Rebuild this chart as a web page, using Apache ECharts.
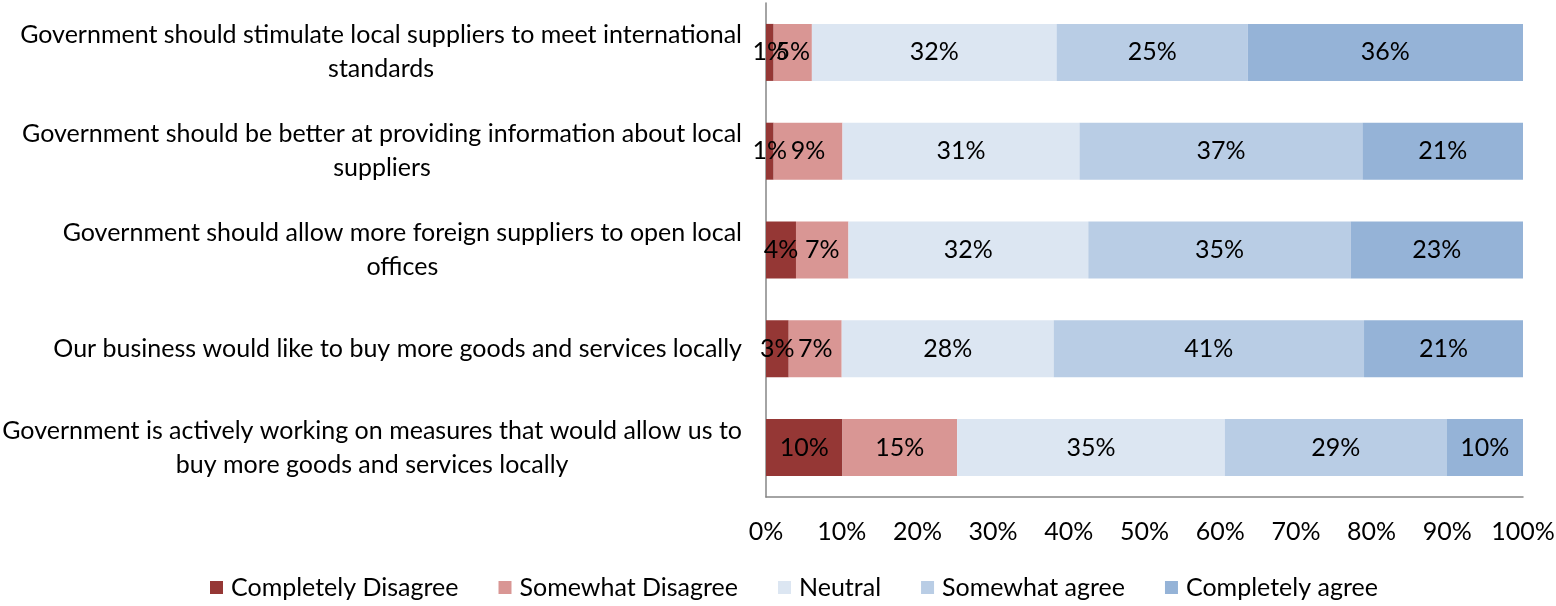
<!DOCTYPE html>
<html>
<head>
<meta charset="utf-8">
<title>Attitudes towards local sourcing</title>
<script src="https://cdn.jsdelivr.net/npm/echarts@6/dist/echarts.min.js"></script>
<style>
  html, body { margin: 0; padding: 0; background: #ffffff; }
  #chart { width: 1556px; height: 606px; }
</style>
</head>
<body>
<div id="chart"></div>
<script>
// Survey statements, top to bottom
const categories = [
  'Government should stimulate local suppliers to meet international\nstandards',
  'Government should be better at providing information about local\nsuppliers',
  'Government should allow more foreign suppliers to open local\noffices',
  'Our business would like to buy more goods and services locally',
  'Government is actively working on measures that would allow us to\nbuy more goods and services locally'
];

// Share of respondents (%) per answer, same order as categories
const completelyDisagree = [1, 1, 4, 3, 10];
const somewhatDisagree   = [5, 9, 7, 7, 15];
const neutral            = [32, 31, 32, 28, 35];
const somewhatAgree      = [25, 37, 35, 41, 29];
const completelyAgree    = [36, 21, 23, 21, 10];

const seriesNames = ['Completely Disagree', 'Somewhat Disagree', 'Neutral', 'Somewhat agree', 'Completely agree'];
const seriesColors = ['#953735', '#D99694', '#DCE6F2', '#B9CDE5', '#95B3D7'];

const axisTicks = [0, 10, 20, 30, 40, 50, 60, 70, 80, 90, 100];

const FONT = 'Lato';
const FS = 25;

const answers = [completelyDisagree, somewhatDisagree, neutral, somewhatAgree, completelyAgree];

// 100% stacked: each row is scaled to its own total
const rowTotals = categories.map((_, i) => answers.reduce((s, a) => s + a[i], 0));

const series = answers.map((arr, k) => ({
  name: seriesNames[k],
  type: 'bar',
  stack: 'total',
  barWidth: 57,
  itemStyle: { color: seriesColors[k] },
  label: {
    show: true,
    position: 'inside',
    color: '#000000',
    fontFamily: FONT,
    fontSize: FS,
    formatter: p => p.data.raw + '%'
  },
  emphasis: { disabled: true },
  data: arr.map((v, i) => ({ value: v / rowTotals[i] * 100, raw: v }))
}));

const chart = echarts.init(document.getElementById('chart'), null, { renderer: 'canvas' });

chart.setOption({
  animation: false,
  backgroundColor: '#ffffff',
  textStyle: { fontFamily: FONT },
  grid: {
    left: 766,
    right: 33,
    top: 3,
    bottom: 109,
    containLabel: false,
    outerBoundsMode: 'none'
  },
  legend: {
    data: seriesNames,
    left: 205,
    top: 570,
    icon: 'rect',
    itemWidth: 13,
    itemHeight: 13,
    itemGap: 40,
    selectedMode: false,
    textStyle: {
      fontFamily: FONT,
      fontSize: FS,
      color: '#000000',
      padding: [0, 0, 0, 3]
    }
  },
  xAxis: {
    type: 'value',
    min: axisTicks[0],
    max: axisTicks[axisTicks.length - 1],
    interval: axisTicks[1] - axisTicks[0],
    axisLine: { show: true, lineStyle: { color: '#868686', width: 1.5 } },
    axisTick: { show: false },
    splitLine: { show: false },
    axisLabel: {
      margin: 22,
      color: '#000000',
      fontFamily: FONT,
      fontSize: FS,
      formatter: v => v + '%'
    }
  },
  yAxis: {
    type: 'category',
    inverse: true,
    data: categories,
    axisLine: { show: true, lineStyle: { color: '#868686', width: 1.5 } },
    axisTick: { show: false },
    axisLabel: {
      margin: 24,
      align: 'right',
      verticalAlign: 'middle',
      color: '#000000',
      fontFamily: FONT,
      fontSize: FS,
      formatter: v => v.split('\n').map(line => '{c|' + line + '}').join('\n'),
      rich: {
        c: {
          align: 'center',
          fontFamily: FONT,
          fontSize: FS,
          lineHeight: 34,
          color: '#000000'
        }
      }
    }
  },
  series: series
});
</script>
</body>
</html>
